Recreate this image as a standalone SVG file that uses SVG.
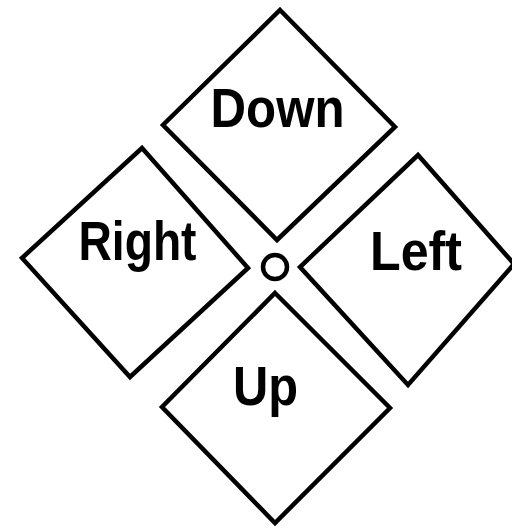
<svg xmlns="http://www.w3.org/2000/svg" width="512" height="528" viewBox="0 0 512 528">
<style>
.d{fill:#fff;stroke:#000;stroke-width:4.5;stroke-linejoin:miter}
.t{font-family:"Liberation Sans",Arial,sans-serif;font-weight:bold;font-size:56px;fill:#000;text-anchor:middle}
</style>
<rect width="512" height="528" fill="#fff"/>
<g id="down">
<polygon class="d" points="280,10 395,127 277,240 163,125"/>
<text class="t" x="277.5" y="127" textLength="134" lengthAdjust="spacingAndGlyphs">Down</text>
</g>
<g id="right">
<polygon class="d" points="142,148 248,268 130,377 22,258"/>
<text class="t" x="137.5" y="260" textLength="118" lengthAdjust="spacingAndGlyphs">Right</text>
</g>
<g id="left">
<polygon class="d" points="418,155 514,264 408,385 300,267"/>
<text class="t" x="416" y="270" textLength="92" lengthAdjust="spacingAndGlyphs">Left</text>
</g>
<g id="up">
<polygon class="d" points="275,293 390,408 275,523 162,407"/>
<text class="t" x="265.5" y="405" textLength="65" lengthAdjust="spacingAndGlyphs">Up</text>
</g>
<g id="center">
<circle cx="275" cy="267" r="12" fill="#fff" stroke="#000" stroke-width="4.5"/>
</g>
<g id="connectors"/>
</svg>
